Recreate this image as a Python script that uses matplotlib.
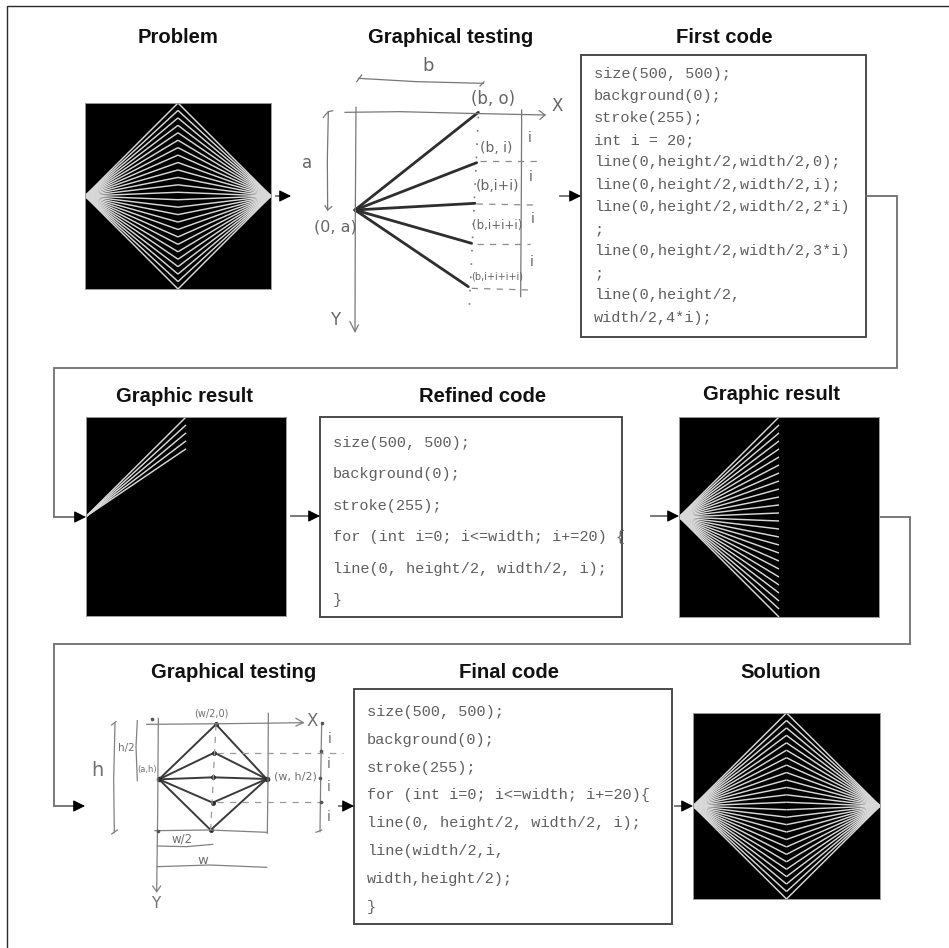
"""Flow of a drawing exercise: problem, sketch, code, result, refined code, solution."""
import matplotlib
matplotlib.use('Agg')
import matplotlib.pyplot as plt
from matplotlib.patches import Rectangle

W, H = 949, 948
MONO = 'Liberation Mono'
SANS = 'Liberation Sans'
HAND = 'DejaVu Sans'

# ---- text -----------------------------------------------------------
titles = ['Problem', 'Graphical testing', 'First code',
          'Graphic result', 'Refined code', 'Graphic result',
          'Graphical testing', 'Final code', 'Solution']
title_x = [178, 451, 724, 185, 483, 772, 234, 509, 781]
title_y = [37, 37, 37, 396, 397, 395, 672, 672, 672]

first_code = ['size(500, 500);', 'background(0);', 'stroke(255);', 'int i = 20;',
              'line(0,height/2,width/2,0);', 'line(0,height/2,width/2,i);',
              'line(0,height/2,width/2,2*i)', ';',
              'line(0,height/2,width/2,3*i)', ';',
              'line(0,height/2,', 'width/2,4*i);']
refined_code = ['size(500, 500);', 'background(0);', 'stroke(255);',
                'for (int i=0; i<=width; i+=20) {',
                'line(0, height/2, width/2, i);', '}']
final_code = ['size(500, 500);', 'background(0);', 'stroke(255);',
              'for (int i=0; i<=width; i+=20){',
              'line(0, height/2, width/2, i);', 'line(width/2,i,',
              'width,height/2);', '}']

# ---- line positions of the generated pictures (processing coordinates) ----
steps_all = list(range(0, 501, 20))
steps_first = [0, 20, 40, 60, 80]

# ---- hand sketch 1, units are crop pixels ---------------------------
s1_heavy_to = [(535, 157), (530, 308), (525, 430), (515, 550), (505, 680)]
s1_origin = (165, 450)
s1_thin = [
    [(135, 157), (300, 155), (500, 160), (735, 165)],
    [(718, 152), (735, 165), (720, 178)],
    [(168, 142), (166, 450), (165, 815)],
    [(150, 785), (165, 815), (175, 795)],
    [(665, 150), (664, 400), (662, 710)],
    [(175, 55), (350, 65), (550, 70)],
    [(170, 65), (185, 45)],
    [(540, 78), (552, 66)],
    [(70, 172), (85, 155), (98, 152)],
    [(85, 155), (82, 300), (83, 450)],
    [(75, 437), (83, 450), (95, 440)],
]
s1_dash = [
    [(540, 302), (710, 302)], [(530, 432), (700, 435)],
    [(530, 552), (690, 552)], [(515, 685), (690, 690)],
]
s1_dots = [[(535, 170), (507, 760)]]
s1_labels = [('b', 385, 18, 13), ('a', 22, 308, 12), ('X', 772, 138, 12), ('Y', 105, 780, 12),
             ('(b, o)', 580, 118, 12), ('(b, i)', 588, 264, 10), ('(b,i+i)', 593, 378, 10),
             ('(b,i+i+i)', 592, 496, 8.5), ('(b,i+i+i+i)', 592, 650, 7), ('(0, a)', 105, 500, 11.5),
             ('i', 688, 235, 10), ('i', 692, 350, 10), ('i', 697, 478, 10), ('i', 695, 605, 10)]

# ---- hand sketch 2, units are crop pixels ---------------------------
s2_left = (297, 298)
s2_right = (620, 297)
s2_mid = [(468, 133), (463, 218), (460, 292), (458, 368), (452, 450)]
s2_thin = [
    [(260, 133), (500, 131), (730, 128)],
    [(708, 115), (730, 128), (708, 138)],
    [(295, 115), (293, 400), (290, 635)],
    [(278, 618), (290, 635), (302, 618)],
    [(625, 100), (624, 300), (622, 460)],
    [(285, 452), (450, 450), (622, 457)],
    [(785, 130), (782, 300), (780, 455)],
    [(768, 457), (785, 450)],
    [(165, 128), (161, 300), (163, 458)],
    [(155, 135), (168, 125)],
    [(155, 462), (172, 450)],
    [(232, 122), (228, 200), (232, 302)],
    [(292, 498), (380, 500), (458, 493)],
    [(292, 560), (450, 555), (620, 562)],
]
s2_dash = [[(470, 218), (850, 218)], [(470, 367), (790, 367)], [(468, 133), (452, 450)]]
s2_dots = [(785, 130), (782, 213), (780, 293), (783, 365), (295, 452), (277, 117)]
s2_labels = [('(w/2,0)', 455, 100, 7), ('(w, h/2)', 705, 290, 8), ('X', 758, 122, 12), ('Y', 288, 670, 11),
             ('h', 112, 272, 14), ('h/2', 200, 205, 7.5), ('(a,h)', 262, 268, 6), ('w/2', 365, 478, 8.5),
             ('w', 430, 540, 9.5), ('i', 808, 178, 10), ('i', 806, 252, 10), ('i', 806, 322, 10),
             ('i', 806, 410, 10)]

# ---- connectors between the stages, figure pixels ---------------------
connectors = [
    [(276, 196), (291, 196)],
    [(560, 196), (581, 196)],
    [(866, 196), (897, 196), (897, 368), (54, 368), (54, 517), (86, 517)],
    [(291, 516), (320, 516)],
    [(651, 516), (679, 516)],
    [(880, 517), (910, 517), (910, 644), (54, 644), (54, 806), (85, 806)],
    [(339, 806), (354, 806)],
    [(675, 806), (693, 806)],
]

fig = plt.figure(figsize=(W / 100, H / 100), dpi=100, facecolor='white')
ax = fig.add_axes([0, 0, 1, 1])
ax.set_xlim(0, W)
ax.set_ylim(H, 0)
ax.axis('off')


def add_panel(x0, y0, x1, y1):
    """A black picture, in the 500x500 coordinates of the code."""
    p = fig.add_axes([x0 / W, 1 - y1 / H, (x1 - x0) / W, (y1 - y0) / H])
    p.set_xlim(0, 500)
    p.set_ylim(500, 0)
    p.set_facecolor('black')
    p.set_xticks([])
    p.set_yticks([])
    for sp in p.spines.values():
        sp.set_color('#9a9a9a')
        sp.set_linewidth(0.7)
    return p


def draw_fan(p, steps, both=False):
    for i in steps:
        p.plot([0, 250], [250, i], color='#d8d8d8', lw=1.05, solid_capstyle='butt')
        if both:
            p.plot([250, 500], [i, 250], color='#d8d8d8', lw=1.05, solid_capstyle='butt')


def add_code(x0, y0, x1, y1, lines, tx, ty, dy):
    ax.add_patch(Rectangle((x0, y0), x1 - x0, y1 - y0, fc='white', ec='#4a4a4a', lw=1.4))
    for k, s in enumerate(lines):
        ax.text(tx, ty + k * dy, s, family=MONO, fontsize=11, color='#5e5e5e', va='center', ha='left')


def add_sketch(x0, y0, w, h):
    s = fig.add_axes([x0 / W, 1 - (y0 + h) / H, w / W, h / H])
    s.set_xlim(0, w * 3)
    s.set_ylim(h * 3, 0)
    s.axis('off')
    s.patch.set_alpha(0)
    return s


# outer frame
ax.plot([7, 7, W + 5], [H + 5, 6, 6], color='#2b2b2b', lw=1.0)

for t, x, y in zip(titles, title_x, title_y):
    ax.text(x, y, t, family=SANS, fontweight='bold', fontsize=14.6, color='#111111', ha='center', va='center')

for pts in connectors:
    xs, ys = zip(*pts)
    ax.plot(xs[:-1] + (xs[-1] - 6,), ys, color='#6e6e6e', lw=1.3, solid_joinstyle='miter')
    ax.annotate('', xy=pts[-1], xytext=(pts[-1][0] - 10, pts[-1][1]),
                arrowprops=dict(arrowstyle='-|>', color='black', lw=0.8, mutation_scale=18,
                                shrinkA=0, shrinkB=0))

draw_fan(add_panel(85, 103, 271, 289), steps_all, both=True)
draw_fan(add_panel(86, 417, 286, 616), steps_first)
draw_fan(add_panel(679, 417, 879, 617), steps_all)
draw_fan(add_panel(693, 713, 880, 899), steps_all, both=True)

add_code(581, 55, 866, 337, first_code, 594, 73.5, 22.2)
add_code(320, 417, 622, 617, refined_code, 333, 443, 31.4)
add_code(354, 689, 672, 924, final_code, 367, 712, 27.8)

# first sketch
s1 = add_sketch(300, 60, 280, 300)
for end in s1_heavy_to:
    s1.plot([s1_origin[0], end[0]], [s1_origin[1], end[1]], color='#2e2e2e', lw=2.0, solid_capstyle='round')
for pts in s1_thin:
    s1.plot(*zip(*pts), color='#777777', lw=0.9)
for pts in s1_dash:
    s1.plot(*zip(*pts), color='#8a8a8a', lw=0.9, ls=(0, (5, 5)))
for pts in s1_dots:
    s1.plot(*zip(*pts), color='#777777', lw=1.2, ls=(0, (1, 7)))
for t, x, y, fs in s1_labels:
    s1.text(x, y, t, family=HAND, fontsize=fs, color='#666666', ha='center', va='center')

# second sketch
s2 = add_sketch(60, 680, 300, 240)
for end in s2_mid:
    s2.plot([s2_left[0], end[0], s2_right[0]], [s2_left[1], end[1], s2_right[1]],
            color='#3a3a3a', lw=1.4, solid_joinstyle='miter')
    s2.plot(end[0], end[1], 'o', ms=2.5, color='#2e2e2e')
s2.plot(*zip(s2_left, s2_right), 'o', ms=3, color='#2e2e2e')
for pts in s2_thin:
    s2.plot(*zip(*pts), color='#808080', lw=0.9)
for pts in s2_dash:
    s2.plot(*zip(*pts), color='#999999', lw=0.9, ls=(0, (5, 5)))
s2.plot(*zip(*s2_dots), ls='none', marker='o', ms=1.6, color='#555555')
for t, x, y, fs in s2_labels:
    s2.text(x, y, t, family=HAND, fontsize=fs, color='#707070', ha='center', va='center')

fig.savefig('out.png', dpi=100, facecolor='white')
